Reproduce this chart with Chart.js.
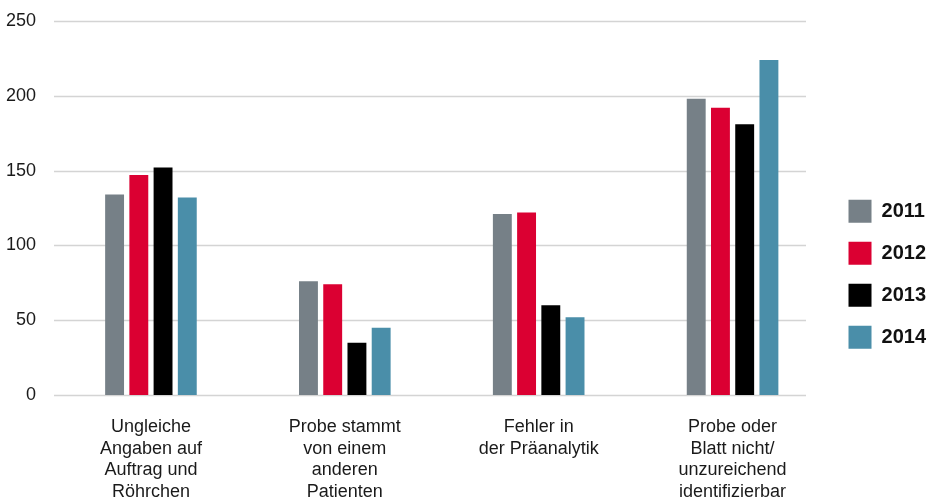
<!DOCTYPE html>
<html>
<head>
<meta charset="utf-8">
<script src="https://cdn.jsdelivr.net/npm/chart.js@4"></script>
<style>
  html, body { margin: 0; padding: 0; background: #fff; }
  #wrap { width: 932px; height: 497px; position: relative; }
</style>
</head>
<body>
<div id="wrap"><canvas id="c" width="932" height="497"></canvas></div>
<script>
const categories = [
  ["Ungleiche", "Angaben auf", "Auftrag und", "Röhrchen"],
  ["Probe stammt", "von einem", "anderen", "Patienten"],
  ["Fehler in", "der Präanalytik"],
  ["Probe oder", "Blatt nicht/", "unzureichend", "identifizierbar"]
];
const seriesNames = ["2011", "2012", "2013", "2014"];
const values2011 = [134, 76, 121, 198];
const values2012 = [147, 74, 122, 192];
const values2013 = [152, 35, 60, 181];
const values2014 = [132, 45, 52, 224];
const yTicks = [0, 50, 100, 150, 200, 250];

const colors = ["#768087", "#db0032", "#000000", "#4a8ea9"];
const allValues = [values2011, values2012, values2013, values2014];

const gridPlugin = {
  id: 'gridTo',
  beforeDatasetsDraw(chart, args, opts) {
    const y = chart.scales.y;
    const ctx = chart.ctx;
    ctx.save();
    ctx.strokeStyle = opts.color;
    ctx.lineWidth = opts.lineWidth;
    y.ticks.forEach(t => {
      const py = Math.round(y.getPixelForValue(t.value)) + 0.5;
      ctx.beginPath();
      ctx.moveTo(chart.chartArea.left, py);
      ctx.lineTo(opts.right, py);
      ctx.stroke();
    });
    ctx.restore();
  }
};

new Chart(document.getElementById('c'), {
  type: 'bar',
  data: {
    labels: categories,
    datasets: seriesNames.map((n, i) => ({
      label: n,
      data: allValues[i],
      backgroundColor: colors[i],
      borderWidth: 0,
      categoryPercentage: 0.5,
      barPercentage: 0.78
    }))
  },
  plugins: [gridPlugin],
  options: {
    responsive: false,
    animation: false,
    layout: { padding: { top: 21, left: 0, right: -4, bottom: 0 } },
    scales: {
      x: {
        grid: { display: false, drawTicks: false },
        border: { display: false },
        ticks: {
          color: '#1a1a1a',
          font: { family: 'Liberation Sans', size: 18, lineHeight: 1.21 },
          padding: 21,
          maxRotation: 0,
          autoSkip: false
        },
        afterFit(scale) { scale.height = 102; }
      },
      y: {
        min: 0, max: 250,
        afterBuildTicks(scale) { scale.ticks = yTicks.map(v => ({ value: v })); },
        grid: { display: false, drawTicks: false },
        border: { display: false },
        ticks: {
          color: '#1a1a1a',
          font: { family: 'Liberation Sans', size: 18 },
          padding: 18
        },
        afterFit(scale) {
          scale.width = 54;
          scale.paddingTop = 0;
          scale.paddingBottom = 0;
        }
      }
    },
    plugins: {
      gridTo: { right: 806, color: '#d4d4d4', lineWidth: 1.5 },
      tooltip: { enabled: false },
      legend: {
        position: 'right',
        align: 'center',
        title: { display: true, text: '', padding: { top: 16, bottom: 0 } },
        labels: {
          boxWidth: 23,
          boxHeight: 23,
          padding: 19,
          color: '#111',
          font: { family: 'Liberation Sans', size: 20, weight: 'bold' }
        }
      }
    }
  }
});
</script>
</body>
</html>
